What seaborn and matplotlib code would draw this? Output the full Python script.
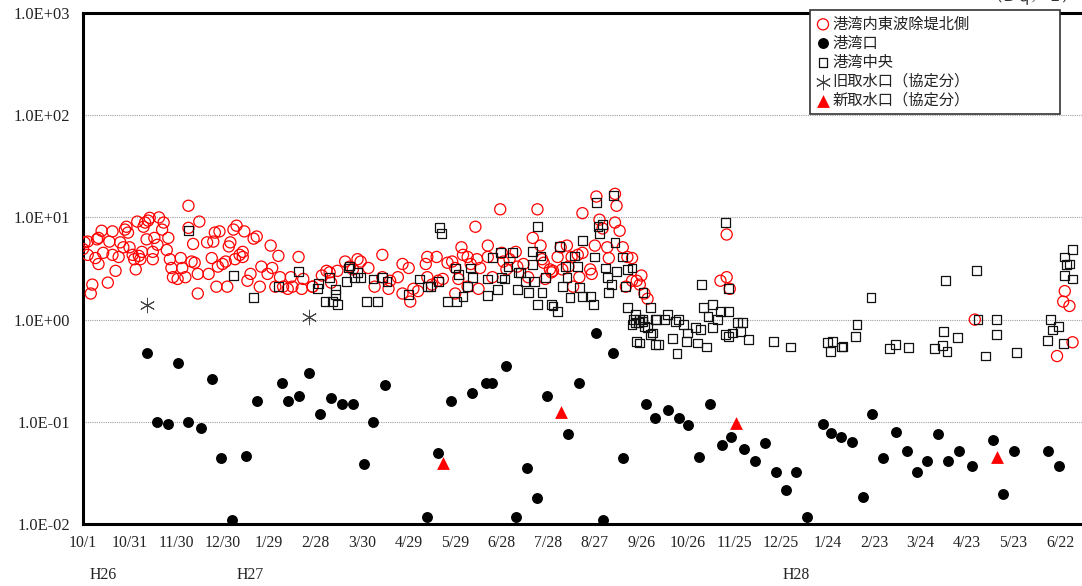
import numpy as np
import pandas as pd
import matplotlib
matplotlib.use("Agg")
import matplotlib.pyplot as plt
from matplotlib.ticker import FixedLocator, FixedFormatter, NullLocator
import seaborn as sns

# ---------------- data ----------------
# x values: days elapsed since 10/1 (H26)
tick_labels = ['10/1', '10/31', '11/30', '12/30', '1/29', '2/28', '3/30', '4/29', '5/29',
               '6/28', '7/28', '8/27', '9/26', '10/26', '11/25', '12/25', '1/24', '2/23',
               '3/24', '4/23', '5/23', '6/22']
ytick_values = [1e-2, 1e-1, 1e0, 1e1, 1e2, 1e3]
ytick_labels = ['1.0E-02', '1.0E-01', '1.0E+00', '1.0E+01', '1.0E+02', '1.0E+03']
era_labels = ['H26', 'H27', 'H28']
series_names = ['港湾内東波除堤北側', '港湾口', '港湾中央', '旧取水口（協定分）', '新取水口（協定分）']
unit_label = '（Ｂｑ／Ｌ）'

east_day = [0, 1, 3, 3, 5, 6, 8, 9, 10, 10, 12, 13, 16, 17, 19, 19, 21, 23, 24, 26,
            27, 28, 29, 30, 32, 33, 34, 35, 36, 37, 38, 39, 40, 41, 42, 43, 45, 45, 46, 48,
            49, 51, 52, 54, 55, 56, 57, 58, 61, 63, 64, 66, 68, 68, 70, 71, 72, 74, 74, 75,
            80, 81, 83, 84, 85, 86, 87, 88, 90, 92, 93, 94, 95, 97, 98, 99, 101, 103, 103, 104,
            106, 108, 110, 112, 114, 115, 119, 121, 122, 124, 126, 127, 129, 132, 134, 135, 139, 141, 142, 148,
            148, 154, 157, 159, 160, 164, 169, 172, 174, 177,
            179, 184, 188, 193, 193, 197, 198, 203, 206, 206, 210, 211, 213, 216, 221, 222, 222, 225, 228, 229,
            232, 235, 238, 240, 240, 242, 244, 245, 248, 248, 250, 253, 254, 255, 256, 261, 261, 264, 269, 270,
            271, 273, 275, 279, 280, 284, 287, 290, 293, 295, 296, 297, 298, 301, 302, 303, 306, 308, 309, 312,
            313, 315, 316, 319, 320, 322, 322, 327, 328, 330, 331, 333, 335, 338, 339, 343, 344, 343, 346, 348,
            350, 351, 354, 354, 357, 359, 360, 362, 364,
            411, 415, 415, 417, 575, 628, 632, 633, 636, 638]
east_val = [4.9, 5.7, 5.8, 4.3, 1.8, 2.2, 4.0, 6.1, 6.3, 3.5, 7.4, 4.5, 2.3, 5.8, 7.3, 4.3, 3.0, 4.1, 5.7, 5.1,
            7.6, 8.1, 7.1, 5.1, 4.3, 3.9, 3.1, 9.1, 4.2, 3.9, 4.6, 8.1, 8.9, 6.1, 9.3, 9.9, 4.6, 3.9, 6.3, 5.4,
            10, 7.6, 8.9, 4.8, 6.3, 3.9, 3.2, 2.6, 2.5, 4.0, 3.2, 2.6, 13, 7.9, 3.7, 5.5, 3.6, 2.8, 1.8, 9.1,
            5.7, 2.8, 4.0, 5.8, 7.1, 2.1, 3.3, 7.3, 3.5, 3.7, 2.1, 5.2, 5.7, 7.6, 3.9, 8.3, 4.3, 4.6, 4.1, 7.3,
            2.4, 2.8, 6.2, 6.5, 2.1, 3.3, 2.8, 5.3, 3.2, 2.1, 4.2, 2.6, 2.1, 2.0, 2.6, 2.1, 4.1, 2.0, 2.5, 2.1,
            2.1, 2.7, 3.0, 2.9, 2.3, 3.0, 3.7, 3.3, 3.1, 3.9,
            3.7, 3.2, 2.1, 4.3, 2.6, 2.0, 2.4, 2.6, 3.5, 1.8, 3.2, 1.5, 2.0, 1.9, 3.5, 4.1, 2.6, 2.2, 4.1, 2.4,
            2.5, 3.6, 3.7, 1.8, 3.2, 2.5, 5.1, 4.3, 4.1, 2.1, 3.5, 8.1, 3.9, 2.0, 3.2, 5.3, 4.1, 2.6, 12, 4.5,
            3.7, 3.1, 3.9, 4.6, 3.3, 3.5, 2.6, 6.3, 12, 5.3, 3.9, 3.6, 2.5, 3.1, 2.9, 3.0, 4.1, 5.1, 3.1, 5.3,
            3.3, 4.1, 2.1, 4.3, 2.6, 4.5, 11, 3.1, 2.8, 5.3, 16, 9.5, 7.8, 5.1, 4.0, 17, 13, 8.9, 7.4, 5.1,
            2.1, 4.1, 4.0, 2.4, 2.4, 2.2, 2.7, 1.8, 1.6,
            2.4, 6.8, 2.6, 2.0, 1.0, 0.44, 1.5, 1.9, 1.36, 0.6]

mouth_day = [41, 48, 55, 61, 68, 76, 83, 89, 96, 105, 112, 128, 132, 139, 146, 153, 160, 167, 174, 181,
             187, 195, 222, 229, 237, 251, 260, 264, 273, 279, 286, 293, 299, 313, 320, 331, 335, 342, 348, 363,
             369, 377, 384, 390, 397, 404, 412, 418, 426, 433, 440, 447, 453, 460, 467, 477, 482, 489, 496, 503,
             509, 516, 524, 531, 538, 544, 551, 558, 565, 573, 587, 593, 600, 622, 629]
mouth_val = [0.47, 0.1, 0.096, 0.38, 0.1, 0.087, 0.26, 0.044, 0.011, 0.046, 0.16, 0.24, 0.16, 0.18, 0.30, 0.12, 0.17, 0.15, 0.15, 0.039,
             0.1, 0.23, 0.0117, 0.05, 0.16, 0.19, 0.24, 0.24, 0.35, 0.0117, 0.035, 0.018, 0.18, 0.076, 0.24, 0.74, 0.011, 0.47, 0.044, 0.15,
             0.11, 0.13, 0.11, 0.093, 0.045, 0.15, 0.059, 0.071, 0.054, 0.041, 0.062, 0.032, 0.0215, 0.032, 0.0117, 0.095, 0.078, 0.071, 0.064, 0.0184,
             0.12, 0.044, 0.08, 0.052, 0.032, 0.041, 0.076, 0.041, 0.052, 0.037, 0.066, 0.0197, 0.052, 0.052, 0.037]

center_day = [68, 97, 110, 139, 126, 151, 152, 156, 159, 161, 163, 163, 164, 171, 172, 170, 175, 177,
              179, 183, 190, 187, 193, 196, 210, 217, 222, 224, 229, 230, 231, 235, 240, 241, 242, 245, 248, 250,
              251, 261, 261, 264, 267, 269, 270, 272, 274, 277, 280, 281, 282, 285, 287, 290, 290, 291, 293, 296,
              293, 295, 298, 302, 303, 306, 307, 309, 311, 312, 314, 317, 319, 320, 322, 322, 327, 329, 330, 331,
              332, 333, 335, 337, 338, 339, 341, 342, 343, 344, 348, 350, 351, 354, 351, 361, 366, 369, 355, 358,
              361, 357, 359, 366, 369, 362, 356, 356, 354, 361, 359, 364, 367, 370, 371, 375, 377, 382, 380, 384,
              387, 383, 389, 390, 395, 398, 396, 399, 400, 403, 406, 402, 406, 409, 411, 416, 414, 416, 419, 422,
              425, 424, 429, 445, 456, 414, 416, 480, 483, 482, 489, 490, 499, 498,
              508, 520, 524, 532, 549, 554, 557, 555, 564, 556, 576, 577, 582, 589, 589, 602, 622, 624, 625, 629,
              632, 638, 633, 634, 636, 633, 638]
center_val = [7.4, 2.7, 1.64, 2.95, 2.1, 2.03, 2.25, 1.5, 2.6, 1.5, 1.97, 1.76, 1.4, 3.2, 3.35, 2.35, 2.6, 2.9,
              2.6, 1.5, 1.5, 2.5, 2.6, 2.35, 1.76, 2.5, 2.1, 2.1, 2.35, 7.9, 6.9, 1.5, 3.2, 1.5, 2.75, 1.68, 2.1, 3.2,
              2.6, 1.72, 2.5, 4.05, 1.97, 4.5, 2.6, 2.5, 3.3, 4.5, 1.97, 2.9, 2.9, 2.35, 1.84, 4.6, 3.45, 2.35, 1.4, 1.84,
              8.1, 4.2, 2.6, 1.4, 1.36, 1.2, 5.2, 2.1, 3.3, 2.6, 1.64, 4.2, 3.3, 2.06, 5.9, 1.68, 1.68, 1.4, 4.1, 14,
              8.1, 6.9, 8.5, 3.2, 2.6, 1.84, 2.2, 16.4, 5.7, 2.95, 4.1, 2.1, 3.1, 3.2, 1.31, 1.84, 1.31, 1.0, 1.0, 0.94,
              1.0, 0.61, 0.59, 0.72, 0.57, 0.85, 1.12, 0.94, 0.89, 0.96, 1.0, 0.83, 0.74, 1.0, 0.57, 1.0, 1.12, 0.96, 0.65, 1.0,
              0.89, 0.47, 0.61, 0.74, 0.83, 0.8, 0.59, 2.2, 1.31, 1.07, 1.4, 0.54, 0.83, 1.0, 1.2, 1.2, 0.72, 0.68, 0.74, 0.94,
              0.94, 0.76, 0.64, 0.61, 0.54, 8.9, 2.03, 0.6, 0.61, 0.49, 0.54, 0.55, 0.89, 0.68,
              1.64, 0.52, 0.57, 0.53, 0.52, 0.56, 0.49, 0.77, 0.67, 2.4, 3.0, 1.0, 0.44, 1.0, 0.72, 0.48, 0.62, 1.0, 0.79, 0.85,
              0.58, 4.84, 4.1, 3.45, 3.5, 2.7, 2.5]

old_intake_day = [41, 146]
old_intake_val = [1.4, 1.05]

new_intake_day = [232, 308, 421, 589]
new_intake_val = [0.0395, 0.125, 0.097, 0.045]

# ---------------- style ----------------
sns.set_theme(style="white")
plt.rcParams['font.family'] = ['Liberation Serif', 'Noto Sans CJK JP', 'DejaVu Sans']

W, H = 1082, 586
fig = plt.figure(figsize=(W / 100, H / 100), dpi=100)
ax_l, ax_r, ax_t, ax_b = 83, 1082, 13, 524
ax = fig.add_axes([ax_l / W, 1 - ax_b / H, (ax_r - ax_l) / W, (ax_b - ax_t) / H])

east = pd.DataFrame({'day': east_day, 'val': east_val})
mouth = pd.DataFrame({'day': mouth_day, 'val': mouth_val})
center = pd.DataFrame({'day': center_day, 'val': center_val})
old_in = pd.DataFrame({'day': old_intake_day, 'val': old_intake_val})
new_in = pd.DataFrame({'day': new_intake_day, 'val': new_intake_val})

sns.scatterplot(data=east, x='day', y='val', ax=ax, marker='o', s=64, color='#ff0000',
                facecolor='none', edgecolor='#ff0000', linewidth=0.9, label=series_names[0], zorder=3)
sns.scatterplot(data=mouth, x='day', y='val', ax=ax, marker='o', s=62, color='black',
                edgecolor='black', linewidth=0, label=series_names[1], zorder=3)
sns.scatterplot(data=center, x='day', y='val', ax=ax, marker='s', s=40, color='#111111',
                facecolor='none', edgecolor='#111111', linewidth=0.9, label=series_names[2], zorder=4)
sns.scatterplot(data=old_in, x='day', y='val', ax=ax, marker=(6, 2, 0), s=110, color='#444444',
                linewidth=0.7, label=series_names[3], zorder=4)
sns.scatterplot(data=new_in, x='day', y='val', ax=ax, marker='^', s=85, color='#ff0000',
                edgecolor='#ff0000', linewidth=0, label=series_names[4], zorder=5)

ax.set_yscale('log')
ax.set_ylim(ytick_values[0], ytick_values[-1])
ax.set_xlim(0, (ax_r - ax_l) / 1.551)

tick_days = [30 * i for i in range(len(tick_labels))]
ax.xaxis.set_major_locator(FixedLocator(tick_days))
ax.xaxis.set_major_formatter(FixedFormatter(tick_labels))
ax.xaxis.set_minor_locator(NullLocator())
ax.yaxis.set_major_locator(FixedLocator(ytick_values))
ax.yaxis.set_major_formatter(FixedFormatter(ytick_labels))
ax.yaxis.set_minor_locator(NullLocator())

ax.tick_params(axis='x', direction='in', length=3.5, width=0.8, color='#777777',
               pad=8, labelsize=11.3, labelcolor='#222222')
ax.tick_params(axis='y', length=0, pad=9, labelsize=11.8, labelcolor='#222222')
ax.set_xlabel('')
ax.set_ylabel('')

ax.yaxis.grid(True, color='#a0a0a0', linestyle=(0, (1, 1)), linewidth=0.8)
ax.xaxis.grid(False)
ax.set_axisbelow(True)

for side in ['left', 'bottom', 'top']:
    ax.spines[side].set_visible(True)
    ax.spines[side].set_color('black')
    ax.spines[side].set_linewidth(2.2)
ax.spines['right'].set_visible(False)

# era labels under the date axis
era_days = [13, 108, 460]
for lab, d in zip(era_labels, era_days):
    ax.text(d, -0.1, lab, transform=ax.get_xaxis_transform(), ha='center', va='center',
            fontsize=11.3, color='#222222')

# unit label (partly hidden at the top edge, as in the source)
fig.text(1078 / W, 1 - 4 / H, unit_label, ha='right', va='bottom', fontsize=11,
         family=['Noto Sans CJK JP'], color='#333333')

handles, labels = ax.get_legend_handles_labels()
leg = ax.legend(handles, labels, loc='upper left',
                bbox_to_anchor=(810 / W, 1 - 114 / H, 250 / W, 104 / H),
                bbox_transform=fig.transFigure, mode='expand',
                frameon=True, fancybox=False, framealpha=1, edgecolor='#333333',
                borderpad=0.35, labelspacing=0.14, handletextpad=0.1, handlelength=1.0,
                borderaxespad=0, scatterpoints=1,
                prop={'family': ['Noto Sans CJK JP'], 'size': 11})
leg.get_frame().set_linewidth(1.2)
for t in leg.get_texts():
    t.set_color('#222222')
leg.set_zorder(10)

fig.savefig('out.png', dpi=100)
